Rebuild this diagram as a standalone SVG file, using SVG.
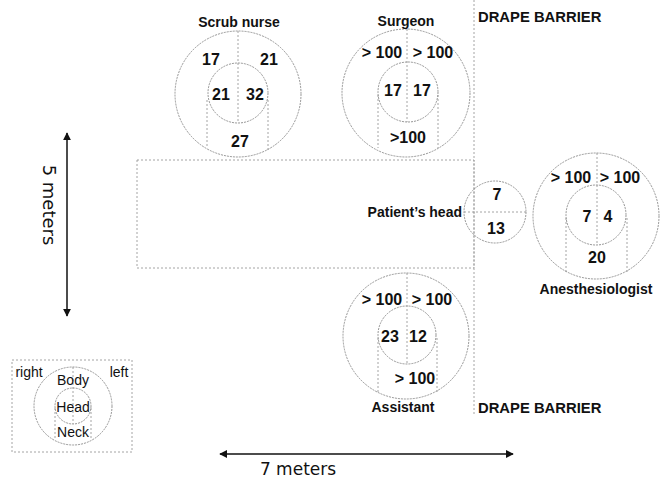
<svg xmlns="http://www.w3.org/2000/svg" width="663" height="480" viewBox="0 0 663 480">
<defs>
<style>
.c{fill:none;stroke:#8a8a8a;stroke-width:0.9;stroke-dasharray:2 1}
.l{fill:none;stroke:#9a9a9a;stroke-width:0.9;stroke-dasharray:2 2}
.n{font-family:"Liberation Sans",Arial,sans-serif;font-weight:bold;font-size:16px;fill:#111;text-anchor:middle}
.t{font-family:"Liberation Sans",Arial,sans-serif;font-weight:bold;font-size:14px;fill:#111;text-anchor:middle}
.d{font-family:"Liberation Sans",Arial,sans-serif;font-weight:bold;font-size:14.8px;fill:#111}
.g{font-family:"Liberation Sans",Arial,sans-serif;font-size:14px;fill:#111;text-anchor:middle}
.m{font-family:"DejaVu Sans","Liberation Sans",sans-serif;font-size:17px;fill:#111;text-anchor:middle}
.a{stroke:#111;stroke-width:1.5;fill:none}
</style>
<marker id="ah" viewBox="0 0 10 10" refX="9" refY="5" markerWidth="8" markerHeight="8" orient="auto-start-reverse" markerUnits="userSpaceOnUse">
<path d="M0,0 L10,5 L0,10 z" fill="#111"/>
</marker>
</defs>
<g id="barrier">
<line class="l" x1="474" y1="0" x2="474" y2="415"/>
<text class="d" x="478" y="22">DRAPE BARRIER</text>
<text class="d" x="478" y="413">DRAPE BARRIER</text>
</g>
<g id="table">
<rect class="l" x="137" y="160" width="337" height="108"/>
</g>
<g id="scrub-nurse">
<circle class="c" cx="238" cy="94" r="63"/>
<circle class="c" cx="238" cy="93" r="30"/>
<line class="l" x1="238" y1="31" x2="238" y2="123"/>
<line class="l" x1="207" y1="100" x2="207" y2="148"/>
<line class="l" x1="268" y1="100" x2="268" y2="150"/>
<text class="t" x="239" y="27">Scrub nurse</text>
<text class="n" x="211" y="65">17</text>
<text class="n" x="269" y="65">21</text>
<text class="n" x="221" y="100">21</text>
<text class="n" x="255" y="100">32</text>
<text class="n" x="240" y="147">27</text>
</g>
<g id="surgeon">
<circle class="c" cx="406" cy="93" r="64"/>
<circle class="c" cx="408" cy="92" r="30"/>
<line class="l" x1="407" y1="29" x2="407" y2="122"/>
<line class="l" x1="378" y1="95" x2="378" y2="148"/>
<line class="l" x1="438" y1="95" x2="438" y2="148"/>
<text class="t" x="406" y="26">Surgeon</text>
<text class="n" x="382" y="58">&gt; 100</text>
<text class="n" x="433" y="58">&gt; 100</text>
<text class="n" x="393" y="96">17</text>
<text class="n" x="422" y="96">17</text>
<text class="n" x="408" y="143">&gt;100</text>
</g>
<g id="patient-head">
<circle class="c" cx="495" cy="212" r="31"/>
<line class="l" x1="464" y1="212" x2="526" y2="212"/>
<text class="n" x="497" y="200">7</text>
<text class="n" x="496" y="234">13</text>
<text class="t" x="462" y="217" style="text-anchor:end">Patient’s head</text>
</g>
<g id="anesthesiologist">
<circle class="c" cx="596" cy="216" r="63"/>
<circle class="c" cx="596" cy="215" r="30"/>
<line class="l" x1="597" y1="153" x2="597" y2="245"/>
<line class="l" x1="566" y1="218" x2="566" y2="272"/>
<line class="l" x1="627" y1="218" x2="627" y2="272"/>
<text class="n" x="571" y="183">&gt; 100</text>
<text class="n" x="620" y="183">&gt; 100</text>
<text class="n" x="587" y="222">7</text>
<text class="n" x="608" y="222">4</text>
<text class="n" x="597" y="263">20</text>
<text class="t" x="596" y="294">Anesthesiologist</text>
</g>
<g id="assistant">
<circle class="c" cx="406" cy="336" r="63"/>
<circle class="c" cx="407" cy="335" r="29"/>
<line class="l" x1="407" y1="273" x2="407" y2="364"/>
<line class="l" x1="378" y1="338" x2="378" y2="392"/>
<line class="l" x1="437" y1="338" x2="437" y2="392"/>
<text class="n" x="382" y="305">&gt; 100</text>
<text class="n" x="432" y="305">&gt; 100</text>
<text class="n" x="390" y="342">23</text>
<text class="n" x="418" y="342">12</text>
<text class="n" x="415" y="384">&gt; 100</text>
<text class="t" x="403" y="412">Assistant</text>
</g>
<g id="legend">
<rect class="l" x="12" y="360" width="120" height="92"/>
<circle class="c" cx="73" cy="406" r="39"/>
<circle class="c" cx="73" cy="406" r="18"/>
<line class="l" x1="73" y1="367" x2="73" y2="424"/>
<line class="l" x1="55" y1="408" x2="55" y2="440"/>
<line class="l" x1="91" y1="408" x2="91" y2="440"/>
<text class="g" x="29" y="377">right</text>
<text class="g" x="119" y="377">left</text>
<text class="g" x="73" y="385">Body</text>
<text class="g" x="73" y="412">Head</text>
<text class="g" x="73" y="437">Neck</text>
</g>
<g id="connectors">
<line class="a" x1="67" y1="133" x2="67" y2="316" marker-start="url(#ah)" marker-end="url(#ah)"/>
<line class="a" x1="220" y1="454" x2="513" y2="454" marker-start="url(#ah)" marker-end="url(#ah)"/>
</g>
<g id="scale-labels">
<text class="m" transform="translate(43,205) rotate(90)" style="font-size:18px">5 meters</text>
<text class="m" x="298" y="475">7 meters</text>
</g>
</svg>
